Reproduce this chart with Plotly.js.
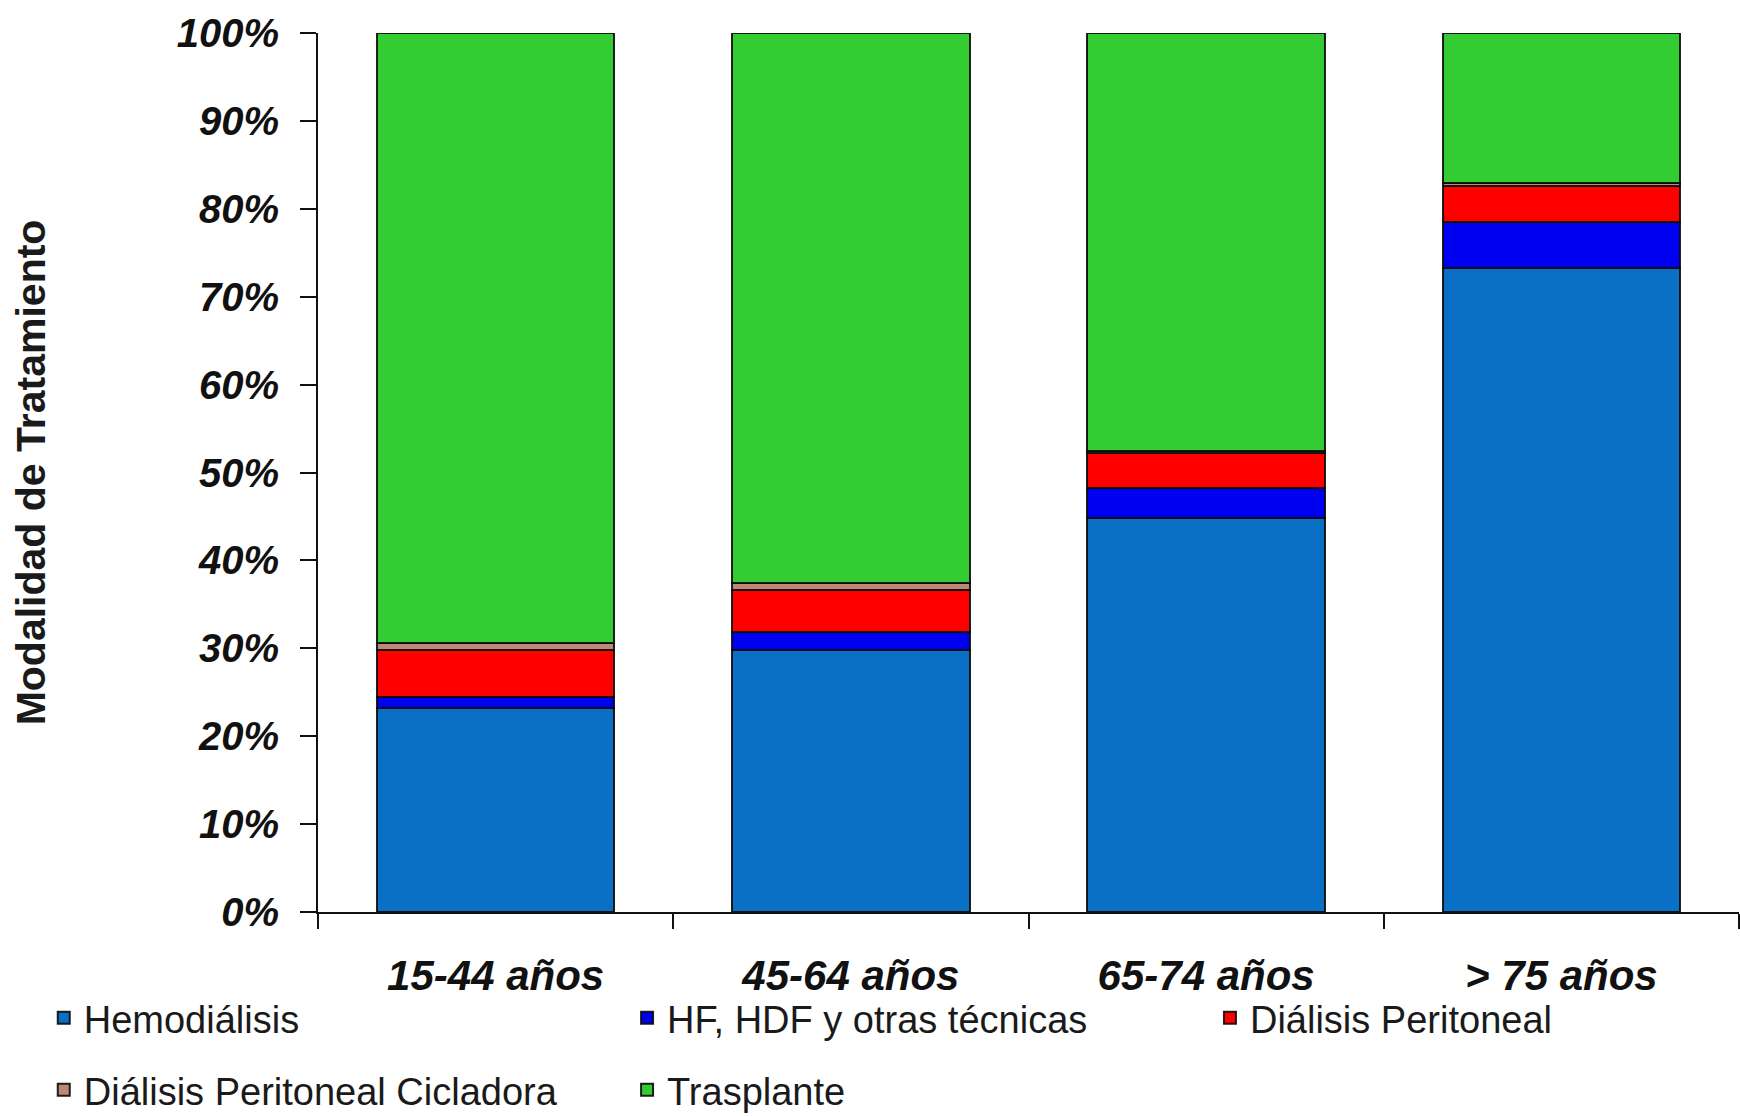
<!DOCTYPE html>
<html>
<head>
<meta charset="utf-8">
<script src="https://cdn.plot.ly/plotly-3.0.1.min.js"></script>
<style>
  html, body { margin: 0; padding: 0; background: #ffffff; }
  #chart { width: 1740px; height: 1116px; }
</style>
</head>
<body>
<div id="chart"></div>
<script>
// Age groups and treatment-modality shares (percent of patients)
const categories = ['15-44 años', '45-64 años', '65-74 años', '> 75 años'];
const hemodialisis = [23.2, 29.8, 44.8, 73.3];
const hfHdfOtras = [1.3, 2.1, 3.4, 5.2];
const dialisisPeritoneal = [5.3, 4.7, 4.0, 4.1];
const dpCicladora = [0.8, 0.8, 0.2, 0.3];
const trasplante = [69.4, 62.6, 47.6, 17.1];

const yTickVals = [0, 10, 20, 30, 40, 50, 60, 70, 80, 90, 100];
const yTickText = ['0%', '10%', '20%', '30%', '40%', '50%', '60%', '70%', '80%', '90%', '100%'];

const seriesDefs = [
  { name: 'Hemodiálisis', y: hemodialisis, color: '#0a70c6', legend: 'legend' },
  { name: 'HF, HDF y otras técnicas', y: hfHdfOtras, color: '#0000f0', legend: 'legend2' },
  { name: 'Diálisis Peritoneal', y: dialisisPeritoneal, color: '#ff0000', legend: 'legend3' },
  { name: 'Diálisis Peritoneal Cicladora', y: dpCicladora, color: '#c08676', legend: 'legend4' },
  { name: 'Trasplante', y: trasplante, color: '#33cc33', legend: 'legend5' }
];

const traces = seriesDefs.map(s => ({
  type: 'bar',
  name: s.name,
  x: categories,
  y: s.y,
  legend: s.legend,
  marker: { color: s.color, line: { color: 'rgba(10,10,10,0.9)', width: 2 } },
  hoverinfo: 'name+y'
}));

const legendFont = { family: 'Liberation Sans, Arial, sans-serif', size: 38, color: '#1a1a1a' };
function legendAt(x, y) {
  return { x: x, y: y, xanchor: 'left', yanchor: 'middle', orientation: 'h',
           font: legendFont, bgcolor: 'rgba(0,0,0,0)', borderwidth: 0 };
}

const layout = {
  width: 1740,
  height: 1116,
  margin: { l: 318, r: 1, t: 33, b: 204, autoexpand: false },
  paper_bgcolor: '#ffffff',
  plot_bgcolor: '#ffffff',
  barmode: 'stack',
  bargap: 0.332,
  showlegend: true,
  legend: legendAt(-0.193, -0.1206),
  legend2: legendAt(0.2175, -0.1206),
  legend3: legendAt(0.6277, -0.1206),
  legend4: legendAt(-0.193, -0.2025),
  legend5: legendAt(0.2175, -0.2025),
  xaxis: {
    type: 'category',
    showline: true,
    linecolor: '#111111',
    linewidth: 2,
    ticks: 'outside',
    tickson: 'boundaries',
    ticklen: 15,
    tickwidth: 2,
    tickcolor: '#111111',
    ticklabelstandoff: 26,
    showgrid: false,
    zeroline: false,
    tickfont: { family: 'Liberation Sans, Arial, sans-serif', size: 42, color: '#111111', weight: 'bold', style: 'italic' }
  },
  yaxis: {
    range: [0, 100],
    tickvals: yTickVals,
    ticktext: yTickText,
    showline: true,
    linecolor: '#111111',
    linewidth: 2,
    ticks: 'outside',
    ticklen: 16,
    tickwidth: 2,
    tickcolor: '#111111',
    ticklabelstandoff: 13,
    showgrid: false,
    zeroline: false,
    tickfont: { family: 'Liberation Sans, Arial, sans-serif', size: 40, color: '#111111', weight: 'bold', style: 'italic' },
    title: {
      text: 'Modalidad de Tratamiento',
      standoff: 118,
      font: { family: 'Liberation Sans, Arial, sans-serif', size: 41, color: '#1a1a1a', weight: 'bold' }
    }
  }
};

Plotly.newPlot('chart', traces, layout, { displayModeBar: false, staticPlot: true });
</script>
</body>
</html>
